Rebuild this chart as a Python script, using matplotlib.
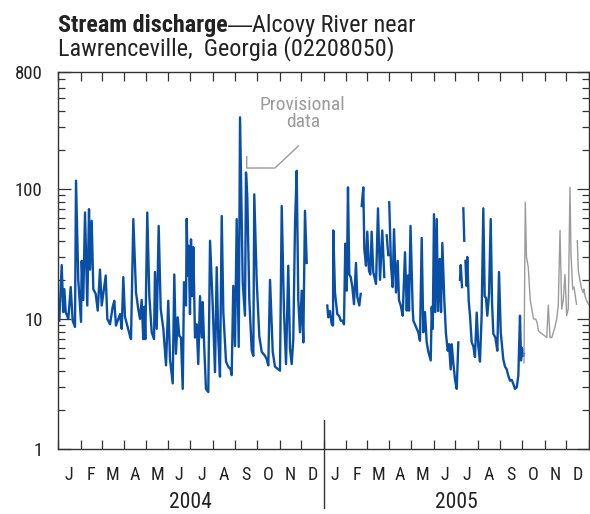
import numpy as np
import matplotlib
matplotlib.use("Agg")
import matplotlib.pyplot as plt
from matplotlib import font_manager
from matplotlib.ticker import FixedLocator, NullFormatter

# ---------------- data (day offset from 2004-01-01, discharge in ft3/s) -------------
nan = np.nan
blue_day = [1.8, 5.1, 7.3, 8.7, 10.6, 14.2, 17.5, 20.2, 23.4, 24.8, 27.9, 31.7, 32.6, 34.8,
            37.2, 40.3, 42.7, 44.1, 46.4, 48.6, 51.9, 54.7, 57.8, 60.2, 65.7, 67.9, 71.6,
            75.3, 77.5, 79.8, 85.4, 87.7, 89.9, 92.2, 99.1, 100.5, 103.7, 107.4, 110.5,
            112.9, 115.2, 117.4, 118.8, 120.2, 122.9, 125.7, 129.0, 132.2, 133.5, 135.9,
            138.6, 141.4, 145.0, 148.7, 151.8, 154.2, 157.9, 160.1, 162.4, 164.8, 167.0,
            169.3, 171.7, 173.5, 176.2, 177.2, 178.6, 179.9, 181.7, 183.1, 184.9, 186.3,
            188.6, 190.9, 193.1, 195.5, 197.8, 199.2, 201.4, 203.7, 206.9, 209.3, 213.0,
            216.1, 218.5, 220.7, 223.0, 225.4, 227.6, 231.3, 234.4, 237.7, 239.1, 241.3,
            243.7, 246.0, 248.8, 250.6, 254.3, 257.4, 258.8, 260.6, 263.4, 266.7, 268.9,
            270.2, 273.5, 277.1, 280.4, 285.0, 287.3, 289.5, 291.9, 295.6, 298.7, 303.3,
            305.6, 308.0, 311.1, 313.9, 317.0, 319.4, 321.7, 323.9, 326.3, 328.6, 330.8,
            333.1, 335.5, 337.7, 340.0, 342.4,
            nan,
            370.7, 372.1, 374.4, 376.8, 378.6, 379.0, 381.3, 384.5, 387.3, 389.2, 392.0,
            393.7, 395.5, 397.5, 399.2, 401.0, 403.0, 405.2, 407.5, 410.2, 412.0, 414.8,
            416.7,
            nan,
            418.1, 420.3, 421.7, 424.0, 425.8, 428.1, 429.9, 431.8, 434.0, 436.4, 437.8,
            440.5, 443.3, 446.4, 449.2,
            nan,
            452.5, 454.7,
            nan,
            456.0, 458.4, 460.7, 462.6, 465.3, 467.7, 469.4, 471.8, 474.5, 477.7, 480.1,
            481.8, 483.2, 485.3, 488.3, 489.2, 492.8, 496.0, 498.3, 500.7, 502.9, 505.2,
            507.6, 509.8, 513.1, 514.5, 515.9, 517.6, 519.4, 521.4, 523.2, 525.5, 527.3,
            529.1, 531.8, 534.1, 536.5, 538.3, 540.6, 542.0, 544.2, 546.5, 548.9, 551.1,
            nan,
            553.4, 554.4, 556.2,
            nan,
            558.0, 559.3,
            nan,
            560.9, 562.3, 563.4, 565.4, 567.2, 569.5, 571.7, 574.0, 576.4, 578.6, 580.9,
            583.2, 585.5, 587.4, 589.2, 591.0, 593.4, 595.7, 597.5, 599.3, 602.1, 604.8,
            607.1, 609.5, 613.0, 615.4, 617.7, 619.9, 622.3, 624.6, 626.9, 629.1, 631.5,
            633.7, 636.0, 637.4, 638.8, 640.5, 641.5]
blue_q = [9.7, 26, 11.3, 17, 11.3, 10, 17.6, 9.7, 8.7, 116, 20, 9.5, 28, 14,
          66, 12.7, 70, 24, 57, 17, 15.6, 11.6, 24, 12.7, 21.6, 10, 9.1,
          12.4, 13.8, 8.9, 10.9, 8.4, 21, 10.4, 7.4, 7.0, 58.7, 16, 11.9,
          10, 14, 7.0, 12.4, 7.0, 66, 15.1, 7.9, 7.0, 23, 8.4,
          52, 11.9, 8.4, 4.4, 13.8, 4.9, 3.2, 22, 5.4, 10.3, 7.4,
          7.2, 2.9, 19.2, 12.7, 59, 21.6, 36.6, 10.9, 41, 15, 35.7,
          7.2, 9.1, 4.5, 15, 7.2, 13.5, 5.9, 2.9, 2.74, 40, 12.7,
          3.9, 25, 7.0, 3.6, 62, 11.3, 4.7, 4.3, 4.1, 3.7, 18,
          6.2, 58.7, 6.1, 356, 19, 10.6, 134, 87, 14, 5.7, 5.2,
          91, 20, 7.4, 5.6, 5.2, 4.9, 4.4, 20, 5.6, 4.3, 4.1,
          4.0, 74, 11.3, 4.5, 25.7, 5.9, 4.5, 7.0, 54, 138, 14,
          7.9, 16.5, 6.6, 68, 27,
          nan,
          12.7, 10.3, 11.5, 9.1, 8.9, 48, 16, 10.9, 10.5, 9.7, 9.7,
          9.1, 38, 16.5, 103, 22, 21, 17.6, 13, 27, 14.8, 12.7,
          15.6,
          nan,
          74, 103, 34.5, 25.7, 47, 23.5, 22, 47, 23, 20, 18.6,
          71, 20, 48, 21,
          nan,
          44, 31,
          nan,
          79, 25.7, 17.6, 49, 16, 28, 14, 12.7, 10.6, 32.6, 11.6,
          21.6, 11.6, 52, 11.9, 9.7, 8.7, 7.9, 6.8, 42, 7.9, 11.3,
          6.6, 5.6, 4.8, 12.4, 8.4, 64, 11.3, 58.7, 11.5, 29, 11.3,
          38.4, 14, 7.7, 5.7, 6.4, 4.1, 6.4, 4.6, 3.45, 2.9, 6.6,
          nan,
          20, 26, 17.6,
          nan,
          71, 40,
          nan,
          28, 18, 30, 13.8, 10.6, 6.6, 6.2, 5.1, 11.2, 6.2, 4.7,
          10.6, 71, 15, 14.5, 10.6, 15.6, 58.7, 13.4, 7.7, 7.2, 5.7,
          23, 7.9, 4.9, 4.3, 4.1, 3.66, 3.35, 3.4, 3.16, 2.9, 2.98,
          3.66, 10.6, 4.8, 6.0, 5.2, 5.4]

gray_day = [641.5, 643.3, 644.9, 647.4, 650.1, 654.7, 657.6, 659.7, 661.4, 666.1, 670.4,
            672.8, 675.0, 677.3, 679.7, 681.9, 684.2, 686.5, 688.7, 691.1, 693.4, 695.6,
            697.9, 700.3, 702.5, 704.8, 706.2, 708.5,
            nan,
            710.4, 713.8,
            nan,
            714.9, 716.3, 718.6, 720.9, 723.1, 724.0, 725.5, 727.8, 730.3]
gray_q = [4.6, 79, 30, 25, 14, 10, 10, 9.3, 8.1, 7.7, 7.4,
          7.2, 12.8, 7.2, 7.2, 7.9, 8.7, 10, 12.7, 48, 11.9, 14,
          22, 10.6, 12, 103, 31.6, 17,
          nan,
          17.6, 13,
          nan,
          40, 23.5, 19.8, 17, 16, 17, 15, 13.8, 13]

month_letters = ["J", "F", "M", "A", "M", "J", "J", "A", "S", "O", "N", "D"]
years = ["2004", "2005"]
y_tick_values = [1, 10, 100, 800]
y_tick_labels = ["1", "10", "100", "800"]

# ---------------- fonts ------------------------------------------------------------
available = {f.name for f in font_manager.fontManager.ttflist}
NARROW = None
for cand in ["Liberation Sans Narrow", "Roboto Condensed", "Open Sans Condensed",
             "DejaVu Sans Condensed"]:
    if cand in available:
        NARROW = cand
        break
BASE = ["Liberation Sans", "DejaVu Sans"]
NARROW_FAM = ([NARROW] if NARROW else []) + BASE
plt.rcParams["font.family"] = BASE

# ---------------- figure ---------------------------------------------------------
W, H = 590, 514
fig = plt.figure(figsize=(W / 100, H / 100), dpi=100)
L, R, B, T = 58, 589, 449, 71.6
ax = fig.add_axes([L / W, (H - B) / H, (R - L) / W, (B - T) / H])

ax.plot(blue_day, blue_q, color="#0a4fa6", lw=1.7, solid_joinstyle="round")
ax.plot(gray_day, gray_q, color="#9b9b9b", lw=1.0)

ax.set_yscale("log")
ax.set_ylim(1, 800)
ax.set_xlim(0, 731)

# month boundaries
starts = np.arange(np.datetime64("2004-01"), np.datetime64("2006-02"), np.timedelta64(1, "M"))
start_days = (starts.astype("datetime64[D]") - np.datetime64("2004-01-01")).astype(float)
bounds = start_days[:25]
centers = (bounds[:-1] + bounds[1:]) / 2

ax.set_xticks(bounds)
ax.set_xticklabels([])
ax.set_xticks(centers, minor=True)
ax.set_xticklabels(month_letters * 2, minor=True, family=NARROW_FAM)
ax.tick_params(axis="x", which="major", direction="in", length=6.5, width=0.9,
               top=True, bottom=True, color="#333333")
ax.tick_params(axis="x", which="minor", length=0, pad=12.5, labelsize=13, colors="#222222")

ax.set_yticks(y_tick_values)
ax.set_yticklabels(y_tick_labels, family=NARROW_FAM)
minors = [v * d for d in (1, 10, 100) for v in range(2, 10) if v * d < 800]
ax.yaxis.set_minor_locator(FixedLocator(minors))
ax.yaxis.set_minor_formatter(NullFormatter())
ax.tick_params(axis="y", which="major", direction="in", length=9, width=0.9,
               left=True, right=True, labelsize=13.5, pad=11, colors="#333333",
               labelcolor="#222222")
ax.tick_params(axis="y", which="minor", direction="in", length=5, width=0.9,
               left=True, right=True, color="#333333")

for s in ax.spines.values():
    s.set_linewidth(1.0)
    s.set_color("#333333")

# year divider
xt = ax.get_xaxis_transform()
ax.plot([366, 366], [0.077, -0.156], transform=xt, color="#333333", lw=1.0, clip_on=False)
for i, yr in enumerate(years):
    ax.text(183 + 365 * i, -0.142, yr, transform=xt, ha="center", va="center",
            fontsize=15.5, color="#222222", family=NARROW_FAM)

# title (font size fitted so that the second line spans the same width as the original)
renderer = fig.canvas.get_renderer()
t2 = fig.text(L / W, 1 - 55.5 / H, "Lawrenceville,  Georgia (02208050)", fontsize=16,
              color="#222222", va="baseline", ha="left", family=NARROW_FAM)
w2 = t2.get_window_extent(renderer).width
title_size = 16 * 337.0 / w2
t2.set_fontsize(title_size)
t1 = fig.text(L / W, 1 - 31.7 / H, "Stream discharge", fontsize=title_size,
              fontweight="bold", color="#222222", va="baseline", ha="left",
              family=NARROW_FAM)
td = ax.annotate("\u2014", xy=(1, 0), xycoords=t1, va="bottom", ha="left",
                 fontsize=title_size, color="#222222", family=BASE)
ax.annotate("Alcovy River near", xy=(1, 0), xycoords=t1, xytext=(0, 0),
            textcoords="offset points", va="bottom", ha="left",
            fontsize=title_size, color="#222222", family=NARROW_FAM,
            annotation_clip=False)
# place the remainder directly after the dash
fig.texts  # noqa
dash_w = td.get_window_extent(renderer).width
ax.texts[-1].xyann = (dash_w * 72.0 / fig.dpi, 0)

# provisional annotation
ax.text(337, 380, "Provisional\ndata", ha="center", va="center", fontsize=14,
        color="#9b9b9b", linespacing=0.95, family=NARROW_FAM)
ax.plot([259.8, 259.8, 298.7, 330.8], [177, 145, 145, 214], color="#9b9b9b", lw=1.0)

fig.savefig("out.png", dpi=100)
